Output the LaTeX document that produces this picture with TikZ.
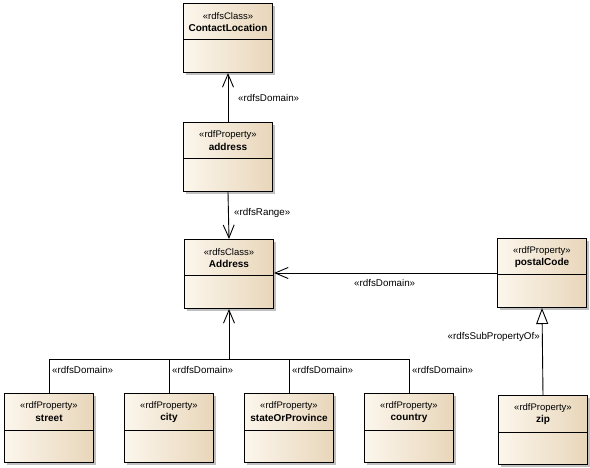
\documentclass[tikz,border=0pt]{standalone}
\usepackage{fontspec}
\setmainfont{Liberation Sans}
\usetikzlibrary{arrows.meta}
\definecolor{boxl}{RGB}{252,246,236}
\definecolor{boxr}{RGB}{232,214,186}
\definecolor{shad}{RGB}{192,192,192}
\tikzset{
 umlbox/.style={draw, line width=1pt, left color=boxl, right color=boxr, minimum width=89pt, minimum height=69pt, anchor=north west, inner sep=0pt},
 stereo/.style={font=\fontsize{9.5}{11}\selectfont, inner sep=0pt},
 bname/.style={font=\fontsize{10}{12}\selectfont\bfseries, inner sep=0pt},
 conn/.style={line width=0.9pt},
 dep/.style={conn, -{Straight Barb[length=13pt,width=11pt,line width=0.9pt]}},
 gen/.style={conn, -{Triangle[open,length=16pt,width=12pt,fill=white,line width=0.9pt]}},
 lbl/.style={font=\fontsize{9.8}{11}\selectfont, inner sep=0pt}
}
\newcommand\umlbox[5]{%
 \fill[shad] (#2+3,#3+3) rectangle ++(89,69);
 \node[umlbox] (#1) at (#2,#3) {};
 \draw[line width=1pt] ([yshift=-37pt]#1.north west) -- ([yshift=-37pt]#1.north east);
 \node[stereo] at ([yshift=-13.5pt]#1.north) {#4};
 \node[bname] at ([yshift=-25pt]#1.north) {#5};
}
\begin{document}
\begin{tikzpicture}[x=1pt,y=-1pt]
\useasboundingbox (0,0) rectangle (590,468);
\umlbox{cl}{183}{3}{«rdfsClass»}{ContactLocation}
\umlbox{addr}{183}{122}{«rdfProperty»}{address}
\umlbox{Address}{184}{239}{«rdfsClass»}{Address}
\umlbox{postal}{497}{238}{«rdfProperty»}{postalCode}
\umlbox{zip}{498}{395}{«rdfProperty»}{zip}
\umlbox{street}{4}{393}{«rdfProperty»}{street}
\umlbox{city}{124}{393}{«rdfProperty»}{city}
\umlbox{state}{244}{393}{«rdfProperty»}{stateOrProvince}
\umlbox{country}{364}{393}{«rdfProperty»}{country}
% connectors
\draw[dep] (addr.north) -- (cl.south);
\node[lbl, anchor=west] (l1) at (238,98) {«rdfsDomain»};
\draw[dep] (addr.south) -- (Address.north);
\node[lbl, anchor=west] (l2) at (234,213) {«rdfsRange»};
\draw[dep] (postal.west |- 0,273) -- (Address.east |- 0,273);
\node[lbl, anchor=west] (l3) at (354,283) {«rdfsDomain»};
\draw[gen] (zip.north) -- (postal.south);
\node[lbl, anchor=east] (l4) at (540,337) {«rdfsSubPropertyOf»};
\coordinate (jn) at (Address.south |- 0,359);
\draw[conn] (street.north) |- (jn);
\draw[conn] (city.north) |- (jn);
\draw[conn] (state.north) |- (jn);
\draw[conn] (country.north) |- (jn);
\draw[dep] (jn) -- (Address.south);
\node[lbl, anchor=west] (l5) at (52,370) {«rdfsDomain»};
\node[lbl, anchor=west] (l6) at (172,370) {«rdfsDomain»};
\node[lbl, anchor=west] (l7) at (292,370) {«rdfsDomain»};
\node[lbl, anchor=west] (l8) at (412,370) {«rdfsDomain»};
\end{tikzpicture}
\end{document}
